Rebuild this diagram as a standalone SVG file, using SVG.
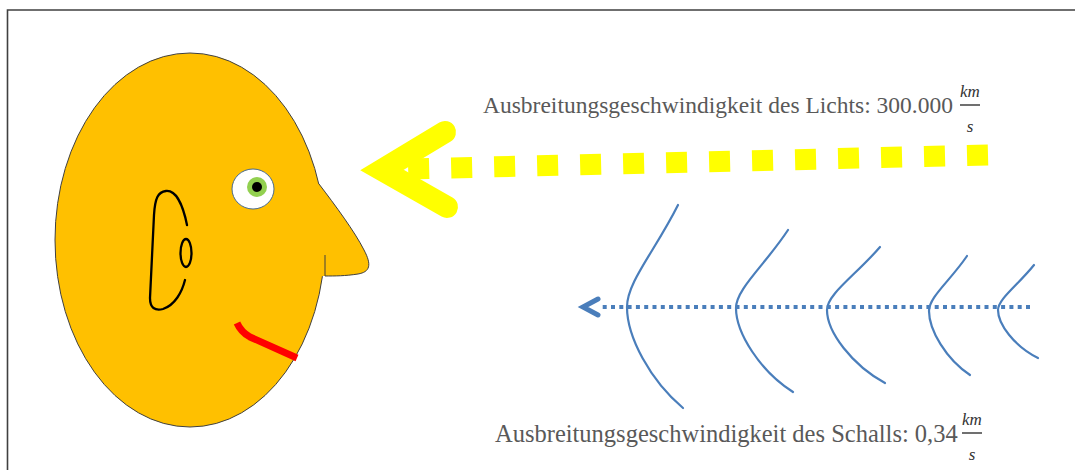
<svg xmlns="http://www.w3.org/2000/svg" width="1075" height="470" viewBox="0 0 1075 470">
  <style>
    .label { font-family: "Liberation Serif", "Times New Roman", serif; font-size: 23.5px; fill: #595959; }
    .label.big { font-size: 24.5px; }
    .frac { font-family: "Liberation Serif", "Times New Roman", serif; font-size: 17px; font-style: italic; fill: #333; }
    .bar { stroke: #333; stroke-width: 1.4; }
    .wave { fill: none; stroke: #4A7EBB; stroke-width: 2.2; stroke-linecap: round; }
    .ear { fill: none; stroke: #000; stroke-width: 2.3; stroke-linecap: round; }
  </style>

  <rect width="1075" height="470" fill="#fff"/>

  <!-- frame -->
  <path d="M7.5,470 L7.5,10 L1075,10" fill="none" stroke="#404040" stroke-width="1.6"/>

  <!-- head -->
  <g id="head">
    <ellipse cx="190" cy="240" rx="135" ry="187" fill="#FFC000" stroke="#404040" stroke-width="1"/>
    <!-- nose -->
    <path d="M319,184 C335,205 355,232 364,250 C372,265 370,272 358,274 C345,276 335,276 325,276 L316,276 L314,184 Z" fill="#FFC000"/>
    <path d="M319,184 C335,205 355,232 364,250 C372,265 370,272 358,274 C345,276 335,276 325,276 M325,255 L325,276" fill="none" stroke="#404040" stroke-width="1"/>
    <!-- eye -->
    <ellipse cx="253" cy="189" rx="21" ry="20" fill="#fff" stroke="#4a6a8a" stroke-width="1"/>
    <circle cx="257" cy="187" r="10" fill="#92D050"/>
    <circle cx="257" cy="187" r="5" fill="#000"/>
    <!-- ear -->
    <path class="ear" d="M187,225 C183,205 176,190 166,191 C158,192 155,198 154,215 L150,298 C150,308 155,311 163,309 C175,305 182,292 185,280"/>
    <ellipse class="ear" cx="186" cy="253" rx="5.5" ry="14" stroke-width="2.6"/>
    <!-- mouth -->
    <path d="M237,323 Q241,332 250,337 L297,358" fill="none" stroke="#FF0000" stroke-width="7"/>
  </g>

  <g id="connectors">
    <!-- light ray -->
    <path d="M988,155 L405,169" fill="none" stroke="#FFFF00" stroke-width="21" stroke-dasharray="21 22"/>
    <polyline points="445,132 382,170 447,207" fill="none" stroke="#FFFF00" stroke-width="22" stroke-linecap="round" stroke-linejoin="miter"/>

    <!-- sound ray -->
    <path d="M1030,307 L600,307" fill="none" stroke="#4A7EBB" stroke-width="4" stroke-dasharray="4 4.3"/>
    <polyline points="598,299 583,307 598,315" fill="none" stroke="#4A7EBB" stroke-width="5" stroke-linecap="round" stroke-linejoin="miter"/>
  </g>

  <!-- sound wave fronts -->
  <g id="waves">
    <path class="wave" d="M678,205 C655,251 627,282 627,307 C627,337 650,380 683,408"/>
    <path class="wave" d="M788,230 C765,265 736,289 736,308 C736,333 760,371 793,392"/>
    <path class="wave" d="M880,247 C856,275 827,294 827,310 C827,332 852,365 885,383"/>
    <path class="wave" d="M967,256 C950,281 929,297 929,311 C929,330 946,359 970,375"/>
    <path class="wave" d="M1034,265 C1018,285 998,299 998,310 C998,324 1014,346 1038,358"/>
  </g>

  <g id="label-light">
    <text class="label" x="483" y="113">Ausbreitungsgeschwindigkeit des Lichts: 300.000</text>
    <text class="frac" x="970" y="97" text-anchor="middle">km</text>
    <line class="bar" x1="960" y1="105" x2="980" y2="105"/>
    <text class="frac" x="970" y="132" text-anchor="middle">s</text>
  </g>

  <g id="label-sound">
    <text class="label big" x="495" y="442">Ausbreitungsgeschwindigkeit des Schalls: 0,34</text>
    <text class="frac" x="972" y="425" text-anchor="middle">km</text>
    <line class="bar" x1="962" y1="433" x2="982" y2="433"/>
    <text class="frac" x="972" y="460" text-anchor="middle">s</text>
  </g>
</svg>
